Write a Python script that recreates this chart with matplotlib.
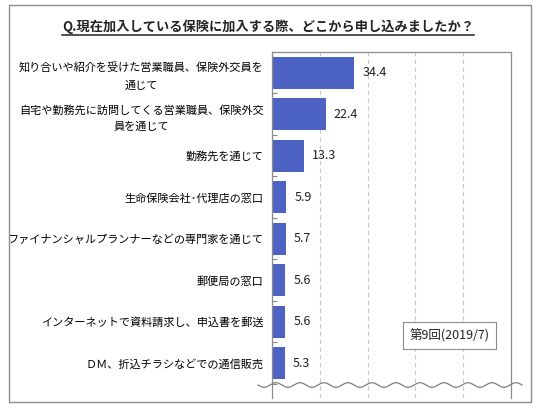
import matplotlib
matplotlib.use("Agg")
import matplotlib.pyplot as plt
import numpy as np
from matplotlib.lines import Line2D
from matplotlib.patches import Rectangle

plt.rcParams['font.family'] = ['Noto Sans CJK JP', 'DejaVu Sans']

title = "Q.現在加入している保険に加入する際、どこから申し込みましたか？"
categories = [
    "知り合いや紹介を受けた営業職員、保険外交員を\n通じて",
    "自宅や勤務先に訪問してくる営業職員、保険外交\n員を通じて",
    "勤務先を通じて",
    "生命保険会社･代理店の窓口",
    "ファイナンシャルプランナーなどの専門家を通じて",
    "郵便局の窓口",
    "インターネットで資料請求し、申込書を郵送",
    "ＤＭ、折込チラシなどでの通信販売",
]
values = [34.4, 22.4, 13.3, 5.9, 5.7, 5.6, 5.6, 5.3]
series_name = "第9回(2019/7)"

W, H = 540, 405
fig = plt.figure(figsize=(5.4, 4.05), dpi=100)


def fx(px):
    return px / W


def fy(py):
    return 1 - py / H


# outer frame
fig.patches.append(Rectangle((fx(9), fy(402)), fx(531) - fx(9), fy(5) - fy(402),
                             transform=fig.transFigure, fill=False,
                             edgecolor='#8c8c8c', linewidth=1.0))

ax = fig.add_axes([fx(272), fy(398), fx(511) - fx(272), fy(52) - fy(398)])

y = np.arange(len(categories))
bars = ax.barh(y, values, height=0.77, color='#4d63c3')
ax.bar_label(bars, labels=[f"{v:.1f}" for v in values], padding=6, fontsize=9, color='#222222')

ax.set_xlim(0, 100)
ax.set_ylim(7.84, -0.5)
ax.set_xticks([20, 40, 60, 80])
ax.tick_params(axis='x', length=0, labelbottom=False)
ax.xaxis.grid(True, linestyle=(0, (4, 3)), color='#c8c8c8', linewidth=0.8)
ax.set_axisbelow(True)

ax.set_yticks(y)
ax.set_yticklabels(categories, fontsize=8, linespacing=1.75)
for lbl in ax.get_yticklabels():
    lbl.set_multialignment('center')
ax.tick_params(axis='y', which='major', length=0, pad=6)
ax.set_yticks(np.arange(-0.5, len(categories), 1.0), minor=True)
ax.tick_params(axis='y', which='minor', direction='in', length=3.5, color='#888888', width=0.8)

for side in ['left', 'right', 'top']:
    ax.spines[side].set_color('#8c8c8c')
    ax.spines[side].set_linewidth(0.9)
ax.spines['bottom'].set_visible(False)

# series box
ax.text(0.575, 0.181, series_name, transform=ax.transAxes, fontsize=9,
        ha='left', va='center', color='#222222',
        bbox=dict(boxstyle='square,pad=0.55', facecolor='white', edgecolor='#8c8c8c', linewidth=0.8))

# title with underline
t = fig.text(fx(268), fy(27), title, ha='center', va='center', fontsize=9.5,
             fontweight='bold', color='#222222')
fig.canvas.draw()
bb = t.get_window_extent(renderer=fig.canvas.get_renderer())
fig.lines.append(Line2D([bb.x0 / W, bb.x1 / W], [fy(35), fy(35)], transform=fig.transFigure,
                        color='#222222', linewidth=1.1))

# wavy break line
wx = np.linspace(258, 522, 300)
wy = 385 + 2.3 * np.sin((wx - 258) / 24 * 2 * np.pi)
fig.lines.append(Line2D(fx(wx), fy(wy), transform=fig.transFigure, color='#808080', linewidth=0.9))

fig.savefig('out.png', dpi=100)
